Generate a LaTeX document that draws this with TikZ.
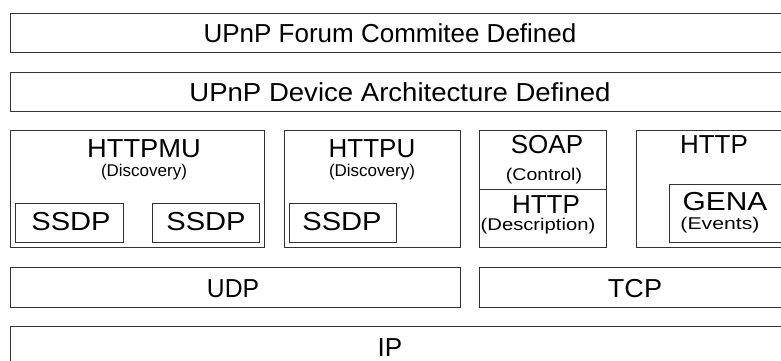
\documentclass[tikz,border=0pt]{standalone}
\usepackage{graphicx}
\usepackage{fontspec}
\setmainfont{Liberation Sans}
% horizontally stretched label text
\newcommand{\widetxt}[2]{\scalebox{#1}[1]{#2}}
\begin{document}
\begin{tikzpicture}[x=1pt,y=-1pt,
  layer/.style={draw=black!80,line width=0.9pt,rectangle,inner sep=0pt,anchor=north west},
  big/.style={font=\fontsize{26}{26}\selectfont,inner sep=0pt,anchor=base},
  small/.style={font=\fontsize{17}{17}\selectfont,inner sep=0pt,anchor=base}]
\useasboundingbox (0,0) rectangle (781,361);
% application layers
\node[layer,minimum width=775pt,minimum height=39pt] (forum) at (10,13) {};
\node[layer,minimum width=775pt,minimum height=39pt] (uda) at (10,72) {};
% protocol boxes
\node[layer,minimum width=254pt,minimum height=117pt] (httpmu) at (10,130) {};
\node[layer,minimum width=108pt,minimum height=39pt] (ssdpa) at (15,203) {};
\node[layer,minimum width=107pt,minimum height=39pt] (ssdpb) at (152,203) {};
\node[layer,minimum width=176pt,minimum height=117pt] (httpu) at (284,130) {};
\node[layer,minimum width=107pt,minimum height=39pt] (ssdpc) at (289,203) {};
\node[layer,minimum width=127pt,minimum height=117pt] (soap) at (479,130) {};
\coordinate (divl) at (479,189);
\coordinate (divr) at (606,189);
\draw[draw=black!80,line width=0.9pt] (divl) -- (divr);
\node[layer,minimum width=150pt,minimum height=117pt] (http) at (636,130) {};
\node[layer,minimum width=120pt,minimum height=58pt] (gena) at (669,184) {};
% transport and network
\node[layer,minimum width=450pt,minimum height=40pt] (udp) at (10,267) {};
\node[layer,minimum width=310pt,minimum height=40pt] (tcp) at (479,267) {};
\node[layer,minimum width=775pt,minimum height=50pt] (ip) at (10,326) {};
% labels
\node[big] (tforum) at (390,42) {UPnP Forum Commitee Defined};
\node[big] (tuda) at (400,101) {\widetxt{1.06}{UPnP Device Architecture Defined}};
\node[big] (thttpmu) at (144,157) {\widetxt{1.05}{HTTPMU}};
\node[small] (dhttpmu) at (144,176.5) {(Discovery)};
\node[big] (tssdpa) at (71,230) {\widetxt{1.12}{SSDP}};
\node[big] (tssdpb) at (206,230) {\widetxt{1.12}{SSDP}};
\node[big] (thttpu) at (372,157) {HTTPU};
\node[small] (dhttpu) at (372,176.5) {(Discovery)};
\node[big] (tssdpc) at (342,230) {\widetxt{1.12}{SSDP}};
\node[big] (tsoap) at (547,153) {SOAP};
\node[small] (dsoap) at (544,180) {\widetxt{1.15}{(Control)}};
\node[big] (thttpd) at (546,213) {HTTP};
\node[small] (dhttpd) at (538,230) {\widetxt{1.19}{(Description)}};
\node[big] (thttp) at (714,153) {HTTP};
\node[big] (tgena) at (725,210) {\widetxt{1.15}{GENA}};
\node[small] (dgena) at (720,229.5) {\widetxt{1.25}{(Events)}};
\node[big] (tudp) at (233,297) {\widetxt{0.95}{UDP}};
\node[big] (ttcp) at (635,297) {\widetxt{1.04}{TCP}};
\node[big] (tip) at (390,356) {IP};
\end{tikzpicture}
\end{document}
